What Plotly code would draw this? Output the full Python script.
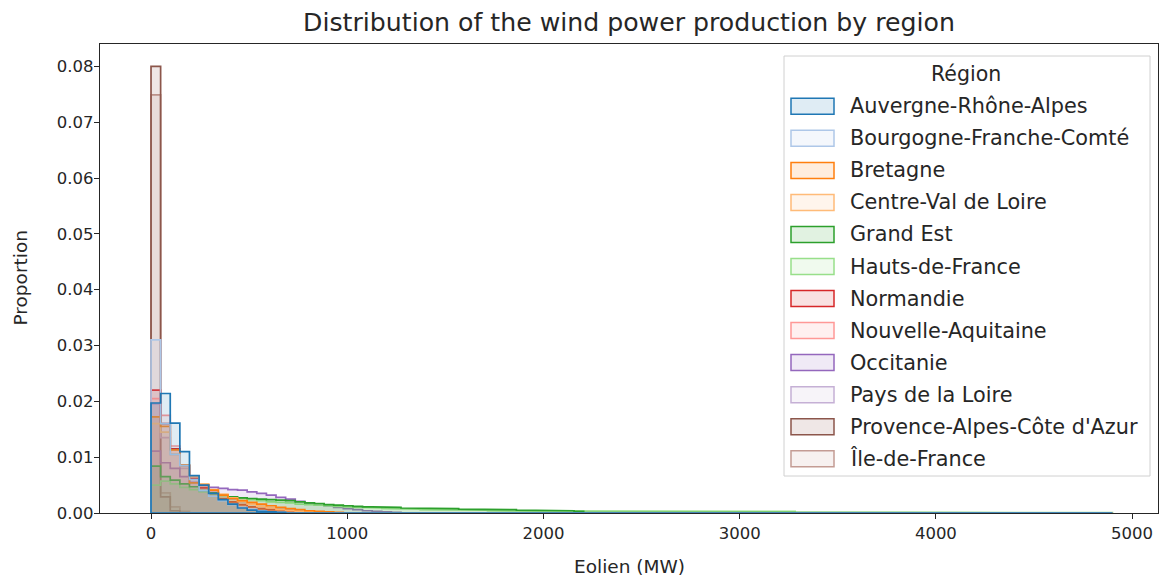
import plotly.graph_objects as go

# Common histogram bins (MW) shared by every region
bin_start = 0
bin_width = 49
n_bins = 100

regions = [
    "Auvergne-Rhône-Alpes", "Bourgogne-Franche-Comté", "Bretagne",
    "Centre-Val de Loire", "Grand Est", "Hauts-de-France", "Normandie",
    "Nouvelle-Aquitaine", "Occitanie", "Pays de la Loire",
    "Provence-Alpes-Côte d'Azur", "Île-de-France",
]
colors = [
    "#1f77b4", "#aec7e8", "#ff7f0e", "#ffbb78", "#2ca02c", "#98df8a",
    "#d62728", "#ff9896", "#9467bd", "#c5b0d5", "#8c564b", "#c49c94",
]

# Proportion of all observations falling in each bin, per region (bins beyond the list are empty)
auvergne_rhone_alpes = [0.0197, 0.0214, 0.0161, 0.0110, 0.0067, 0.0050, 0.0035, 0.0024, 0.0016,
                        0.0009, 0.0005, 0.0003, 0.0002, 0.0001]
bourgogne_franche_comte = [0.0310, 0.0160, 0.0105, 0.0085, 0.0060, 0.0040, 0.0030, 0.0022, 0.0015,
                           0.0010, 0.0007, 0.0004, 0.0002, 0.0001]
bretagne = [0.0172, 0.0155, 0.0113, 0.0086, 0.0054, 0.0050, 0.0041, 0.0032, 0.0026, 0.0022,
            0.0019, 0.0016, 0.0013, 0.0010, 0.0008, 0.0006, 0.0004, 0.0003, 0.0002, 0.0001]
centre_val_de_loire = [0.0160, 0.0145, 0.0105, 0.0085, 0.0065, 0.0052, 0.0042, 0.0034, 0.0027,
                       0.0021, 0.0016, 0.0012, 0.0009, 0.0006, 0.0004, 0.0003, 0.0002, 0.0001]
grand_est = [0.0084, 0.0065, 0.0059, 0.0052, 0.0047, 0.0040, 0.0036, 0.0032, 0.0029, 0.0027,
             0.0026, 0.0025, 0.0024, 0.0023, 0.0022, 0.0020, 0.0018, 0.0017, 0.0015, 0.0014,
             0.0013, 0.0012, 0.0011, 0.0011, 0.0011, 0.0010, 0.0009, 0.0009, 0.0008, 0.0008,
             0.0008, 0.0008, 0.0007, 0.0007, 0.0007, 0.0006, 0.0006, 0.0006, 0.0005, 0.0005,
             0.0005, 0.0004, 0.0004, 0.0004, 0.0003, 0.0001, 0.0001, 0.0001, 0.0001, 0.0001,
             0.0001, 0.0001, 0.0001, 0.0001, 0.0001, 0.0001, 0.0001, 0.0001, 0.0001, 0.0001]
hauts_de_france = [0.0050, 0.0057, 0.0052, 0.0046, 0.0042, 0.0038, 0.0034, 0.0031, 0.0028, 0.0026,
                   0.0024, 0.0022, 0.0020, 0.0019, 0.0018, 0.0016, 0.0015, 0.0014, 0.0013, 0.0012,
                   0.0011, 0.0010, 0.0010, 0.0009, 0.0008, 0.0008, 0.0007, 0.0007, 0.0006, 0.0006,
                   0.0005, 0.0005, 0.0005, 0.0005, 0.0005, 0.0004, 0.0004, 0.0004, 0.0004, 0.0004,
                   0.0004, 0.0004, 0.0004, 0.0004, 0.0004, 0.0003, 0.0003, 0.0003, 0.0003, 0.0003,
                   0.0003, 0.0003, 0.0003, 0.0003, 0.0003, 0.0003, 0.0003, 0.0003, 0.0003, 0.0003,
                   0.0003, 0.0003, 0.0003, 0.0003, 0.0003, 0.0003, 0.0003, 0.00015, 0.00015, 0.00015,
                   0.00015, 0.00015, 0.00015, 0.00015, 0.00015, 0.00015, 0.00015, 0.00015, 0.00015, 0.00015,
                   0.00015, 0.00015, 0.00015, 0.00015, 0.00005, 0.00005, 0.00005, 0.00005, 0.00005, 0.00005,
                   0.00005, 0.00005, 0.00005, 0.00005, 0.00005, 0.00005, 0.00005, 0.00005, 0.00005, 0.00005]
normandie = [0.0220, 0.0160, 0.0115, 0.0085, 0.0062, 0.0045, 0.0034, 0.0026, 0.0020, 0.0015,
             0.0011, 0.0008, 0.0006, 0.0004, 0.0003, 0.0002, 0.0001]
nouvelle_aquitaine = [0.0205, 0.0175, 0.0120, 0.0085, 0.0062, 0.0046, 0.0034, 0.0025, 0.0018,
                      0.0013, 0.0009, 0.0006, 0.0004, 0.0003, 0.0002, 0.0001]
occitanie = [0.0111, 0.0090, 0.0080, 0.0065, 0.0055, 0.0050, 0.0046, 0.0044, 0.0042, 0.0041,
             0.0038, 0.0035, 0.0032, 0.0028, 0.0025, 0.0021, 0.0017, 0.0014, 0.0013, 0.0010,
             0.0008, 0.0006, 0.0004, 0.0003, 0.0002, 0.0001]
pays_de_la_loire = [0.0195, 0.0135, 0.0105, 0.0080, 0.0062, 0.0049, 0.0039, 0.0031, 0.0025,
                    0.0020, 0.0016, 0.0012, 0.0009, 0.0007, 0.0005, 0.0003, 0.0002, 0.0001]
provence_alpes_cote_azur = [0.0800, 0.0029, 0.0004]
ile_de_france = [0.0749, 0.0036, 0.0011, 0.0003]

proportions = [
    auvergne_rhone_alpes, bourgogne_franche_comte, bretagne, centre_val_de_loire,
    grand_est, hauts_de_france, normandie, nouvelle_aquitaine, occitanie,
    pays_de_la_loire, provence_alpes_cote_azur, ile_de_france,
]

x_ticks = [0, 1000, 2000, 3000, 4000, 5000]
y_ticks = [0.00, 0.01, 0.02, 0.03, 0.04, 0.05, 0.06, 0.07, 0.08]

edges = [bin_start + i * bin_width for i in range(n_bins + 1)]
FILL_ALPHA = 0.14


def hex_rgba(h, a):
    h = h.lstrip("#")
    r, g, b = int(h[0:2], 16), int(h[2:4], 16), int(h[4:6], 16)
    return f"rgba({r},{g},{b},{a})"


def step_outline(values):
    """Closed step polygon (baseline included) over the common bins."""
    heights = list(values) + [0.0] * (n_bins - len(values))
    xs, ys = [edges[0]], [0.0]
    for i, h in enumerate(heights):
        xs += [edges[i], edges[i + 1]]
        ys += [h, h]
    xs += [edges[-1], edges[0]]
    ys += [0.0, 0.0]
    return xs, ys


fig = go.Figure()

# Later regions are drawn first so the first region ends up on top
for name, color, vals in reversed(list(zip(regions, colors, proportions))):
    xs, ys = step_outline(vals)
    fig.add_trace(go.Scatter(
        x=xs, y=ys, mode="lines", name=name,
        fill="toself", fillcolor=hex_rgba(color, FILL_ALPHA),
        line=dict(color=color, width=1.7),
        showlegend=False, hoverinfo="skip",
    ))

# Plot-area geometry in pixels
W, H = 1161, 578
PL, PR, PT, PB = 100, 1158, 44, 513


def pxx(x):
    return (x - PL) / (PR - PL)


def pyy(y):
    return (PB - y) / (PB - PT)


font_family = "DejaVu Sans"
text_color = "#262626"
shapes = []
annotations = []

# Legend frame
shapes.append(dict(
    type="rect", xref="paper", yref="paper", layer="above",
    x0=pxx(784), x1=pxx(1150), y0=pyy(476), y1=pyy(56),
    fillcolor="rgba(255,255,255,0.8)", line=dict(color="#d0d0d0", width=1),
))
annotations.append(dict(
    text="Région", xref="paper", yref="paper", x=pxx(966), y=pyy(74),
    xanchor="center", yanchor="middle", showarrow=False,
    font=dict(family=font_family, size=20.5, color=text_color),
))
for i, (name, color) in enumerate(zip(regions, colors)):
    cy = 106.3 + 32.04 * i
    shapes.append(dict(
        type="rect", xref="paper", yref="paper", layer="above",
        x0=pxx(791), x1=pxx(834), y0=pyy(cy + 8), y1=pyy(cy - 8),
        fillcolor=hex_rgba(color, FILL_ALPHA), line=dict(color=color, width=1.5),
    ))
    annotations.append(dict(
        text=name, xref="paper", yref="paper", x=pxx(848), y=pyy(cy),
        xanchor="left", yanchor="middle", showarrow=False,
        font=dict(family=font_family, size=20.8, color=text_color),
    ))

# Axis titles
annotations.append(dict(
    text="Eolien (MW)", xref="paper", yref="paper", x=0.5, y=pyy(566),
    xanchor="center", yanchor="middle", showarrow=False,
    font=dict(family=font_family, size=18.5, color=text_color),
))
annotations.append(dict(
    text="Proportion", xref="paper", yref="paper", x=pxx(20), y=0.5,
    xanchor="center", yanchor="middle", showarrow=False, textangle=-90,
    font=dict(family=font_family, size=18.5, color=text_color),
))

fig.update_layout(
    width=W, height=H,
    margin=dict(l=PL, r=W - PR, t=PT, b=H - PB),
    paper_bgcolor="white", plot_bgcolor="white",
    font=dict(family=font_family, color=text_color),
    title=dict(
        text="Distribution of the wind power production by region",
        x=(PL + PR) / 2 / W, xanchor="center",
        y=1 - 22 / H, yanchor="middle",
        font=dict(family=font_family, size=25.2, color=text_color),
    ),
    xaxis=dict(
        range=[-260, 5132], tickvals=x_ticks, ticktext=[str(v) for v in x_ticks],
        showgrid=False, zeroline=False, showline=True, mirror=True,
        linecolor=text_color, linewidth=1.2, ticks="outside", ticklen=5,
        tickcolor=text_color, tickwidth=1.2,
        tickfont=dict(family=font_family, size=16.5, color=text_color),
    ),
    yaxis=dict(
        range=[0, 0.084], tickvals=y_ticks, ticktext=[f"{v:.2f}" for v in y_ticks],
        showgrid=False, zeroline=False, showline=True, mirror=True,
        linecolor=text_color, linewidth=1.2, ticks="outside", ticklen=5,
        tickcolor=text_color, tickwidth=1.2, ticklabelstandoff=-3,
        tickfont=dict(family=font_family, size=16.5, color=text_color),
    ),
    shapes=shapes,
    annotations=annotations,
    showlegend=False,
)

fig.write_html("out.html")
